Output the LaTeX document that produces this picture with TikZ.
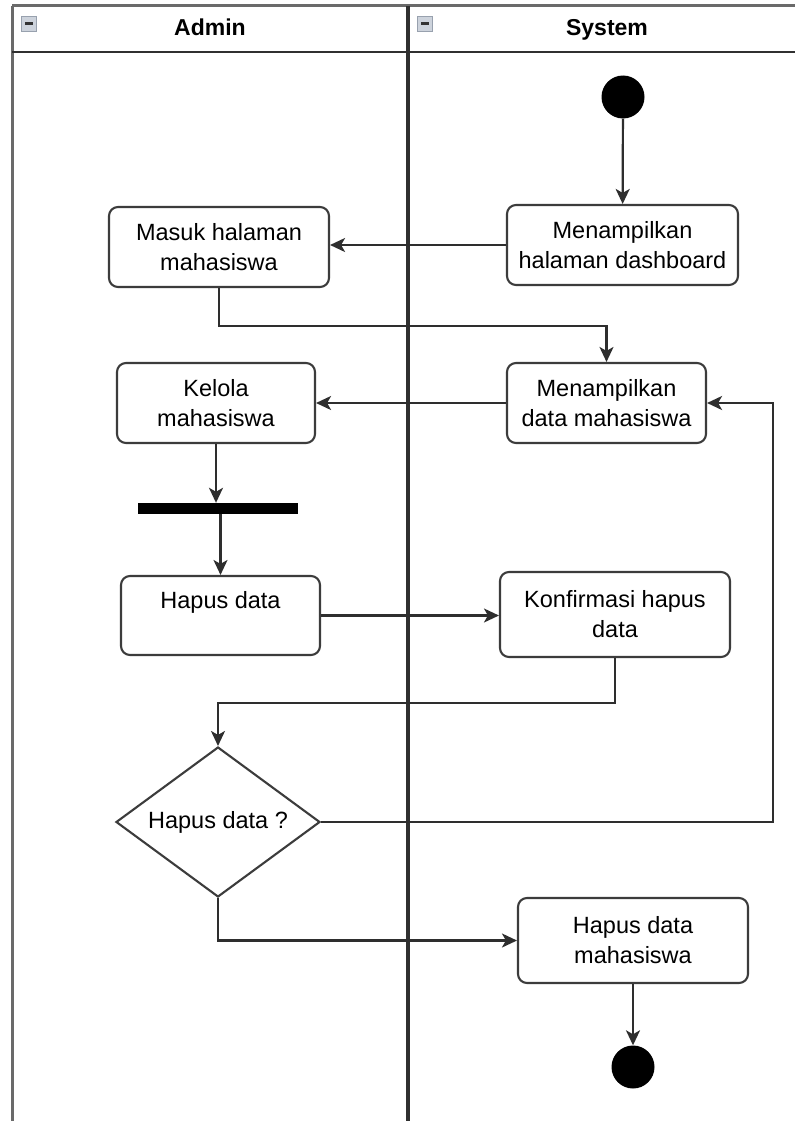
\documentclass[tikz,border=0pt]{standalone}
\usepackage{fontspec}
\setmainfont{Liberation Sans}
\usetikzlibrary{arrows.meta,shapes.geometric}
\definecolor{edgegray}{HTML}{2E2E2E}
\definecolor{boxgray}{HTML}{3C3C3C}
\definecolor{lanedark}{HTML}{303030}
\definecolor{lanelight}{HTML}{6A6A6A}
\definecolor{iconfill}{HTML}{CDD3DC}
\definecolor{iconedge}{HTML}{98A1AE}
\newcommand\actfont{\fontsize{23.5}{30}\selectfont}
\newcommand\hdrfont{\fontsize{23}{28}\selectfont\bfseries}
\begin{document}
\begin{tikzpicture}[x=1pt,y=-1pt,
  activity/.style={draw=boxgray, line width=2.1pt, rounded corners=9pt, fill=white,
    align=center, inner sep=0pt, font=\actfont},
  decision/.style={diamond, draw=boxgray, line width=2.1pt, fill=white, inner sep=0pt,
    aspect=1.36, font=\actfont},
  terminal/.style={circle, fill=black, inner sep=0pt, minimum size=43pt},
  forkbar/.style={rectangle, fill=black, inner sep=0pt, minimum width=160pt, minimum height=11pt},
  header/.style={font=\hdrfont, inner sep=0pt, text height=17pt, text depth=5pt},
  flow/.style={draw=edgegray, line width=2.2pt, -{Stealth[length=15pt,width=14pt,inset=4pt]}},
  laneline/.style={line width=3pt},
  collapse/.style={fill=iconfill, draw=iconedge, line width=0.8pt}
]
\useasboundingbox (0,0) rectangle (795,1121);
\fill[white] (0,0) rectangle (795,1121);

% swimlane frame
\draw[laneline, draw=lanelight] (12,6) -- (795,6);
\draw[laneline, draw=lanelight] (12,6) -- (12,1121);
\draw[laneline, draw=lanedark, line width=2.6pt] (12,52) -- (795,52);
\draw[laneline, draw=lanedark, line width=3.2pt] (408,6) -- (408,1121);

% collapse icons in the lane headers
\draw[collapse] (21,16) rectangle (36,31);
\fill[black!80] (24.5,22) rectangle (32.5,25);
\draw[collapse] (417,16) rectangle (432,31);
\fill[black!80] (420.5,22) rectangle (428.5,25);

% lane titles
\node[header] (adminhdr) at (210,30) {Admin};
\node[header] (systemhdr) at (607,30) {System};

% activities
\node[terminal] (start) at (623,97) {};
\node[activity, minimum width=231pt, minimum height=80pt] (dash) at (622.5,245)
  {Menampilkan\\halaman dashboard};
\node[activity, minimum width=220pt, minimum height=80pt] (masuk) at (219,247)
  {Masuk halaman\\mahasiswa};
\node[activity, minimum width=199pt, minimum height=80pt] (data) at (606.5,403)
  {Menampilkan\\data mahasiswa};
\node[activity, minimum width=198pt, minimum height=80pt] (kelola) at (216,403)
  {Kelola\\mahasiswa};
\node[forkbar] (bar) at (218,508.5) {};
\node[activity, minimum width=199pt, minimum height=79pt, text height=17pt, text depth=32pt]
  (hapus) at (220.5,615.5) {Hapus data};
\node[activity, minimum width=230pt, minimum height=85pt] (konf) at (615,614.5)
  {Konfirmasi hapus\\data};
\node[decision, minimum width=204pt, minimum height=150pt] (dec) at (218,822) {Hapus data ?};
\node[activity, minimum width=230pt, minimum height=85pt] (del) at (633,940.5)
  {Hapus data\\mahasiswa};
\node[terminal] (end) at (633,1067) {};

% control flow
\draw[flow] (start) -- (dash);
\draw[flow] (dash.west) -- (dash.west -| masuk.east);
\draw[flow] (masuk.south) -- ++(0,38) -| (data.north);
\draw[flow] (data.west) -- (kelola.east);
\draw[flow] (kelola.south) -- (kelola.south |- bar.north);
\draw[flow] (hapus.north |- bar.south) -- (hapus.north);
\draw[flow] (hapus.east) -- (hapus.east -| konf.west);
\draw[flow] (konf.south) -- ++(0,45) -| (dec.north);
\draw[flow] (dec.east) -- ++(452,0) |- (data.east);
\draw[flow] (dec.south) |- (del.west);
\draw[flow] (del.south) -- (end);
\end{tikzpicture}
\end{document}
